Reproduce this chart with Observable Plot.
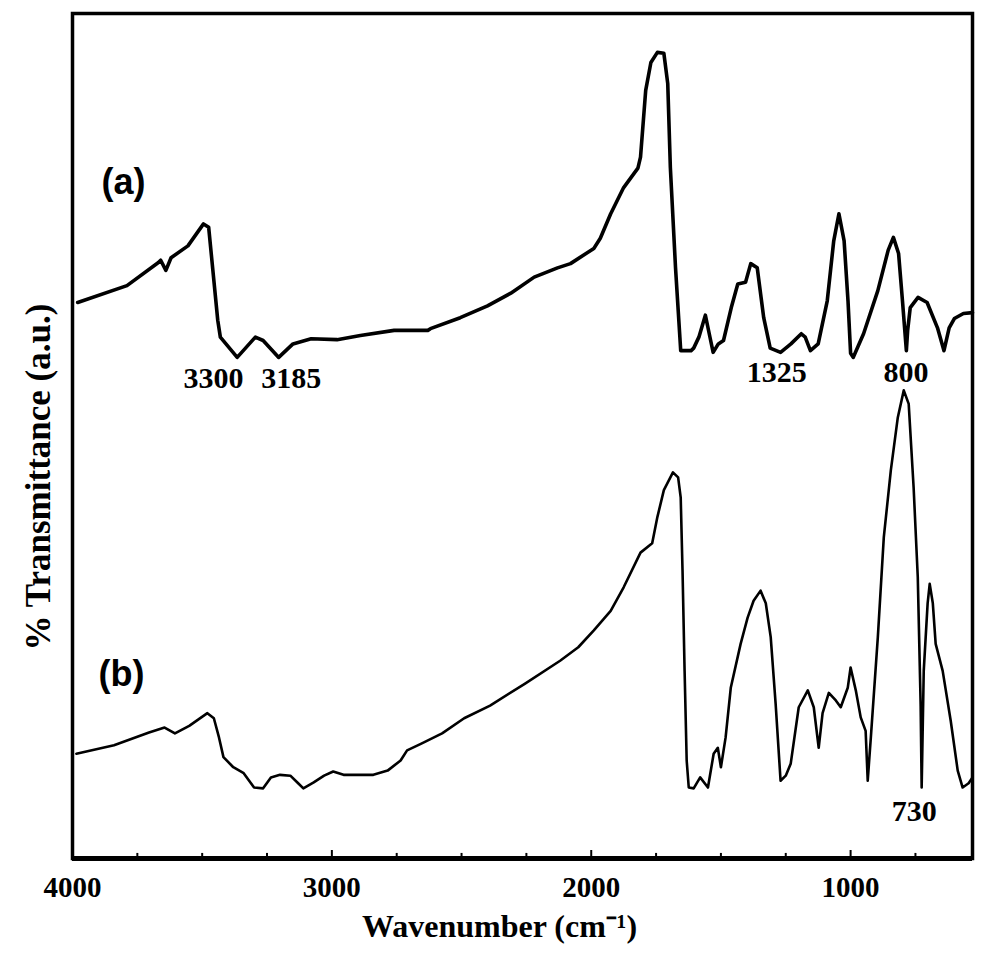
<!DOCTYPE html>
<html>
<head>
<meta charset="utf-8">
<script src="https://cdn.jsdelivr.net/npm/d3@7"></script>
<script src="https://cdn.jsdelivr.net/npm/@observablehq/plot@0.6"></script>
<style>
  html, body { margin: 0; padding: 0; background: #fff; }
  #chart { width: 999px; height: 970px; }
</style>
</head>
<body>
<div id="chart"></div>
<script>
// ---- Data ----
// Spectrum (a)
const waveA = [3980,3790,3670,3660,3640,3620,3555,3495,3475,3440,3430,3365,3295,3265,3205,3150,3080,2980,2890,2760,2630,2620,2505,2400,2310,2220,2130,2080,1990,1965,1925,1875,1820,1810,1790,1770,1745,1720,1705,1695,1675,1655,1615,1605,1585,1560,1545,1530,1510,1490,1460,1435,1405,1385,1360,1335,1310,1270,1230,1190,1175,1155,1125,1090,1065,1045,1025,1010,1000,990,950,895,855,835,815,800,785,780,770,740,705,665,640,620,600,565,530];
const transA = [65.8,67.8,70.5,70.8,69.6,71.1,72.5,75.1,74.7,63.7,61.7,59.3,61.7,61.3,59.3,60.9,61.5,61.4,61.9,62.5,62.5,62.7,64.0,65.4,66.9,68.8,69.9,70.4,72.2,73.4,76.3,79.4,81.7,83.0,90.9,94.2,95.4,95.3,91.7,81.8,69.9,60.1,60.1,60.4,61.7,64.3,62.1,59.9,60.9,61.3,65.2,68.0,68.2,70.4,69.9,64.0,60.4,59.9,60.9,62.1,61.7,60.1,60.9,66.0,73.1,76.3,73.1,66.0,59.8,59.3,62.1,67.2,72.0,73.5,71.6,66.0,60.1,62.5,65.2,66.4,65.8,62.8,60.1,62.8,63.9,64.5,64.6];
// Spectrum (b)
const waveB = [3985,3840,3705,3645,3605,3550,3480,3455,3435,3418,3380,3340,3300,3265,3235,3200,3160,3130,3110,3070,3030,2995,2955,2840,2785,2735,2710,2655,2575,2490,2390,2255,2120,2050,1990,1925,1875,1810,1765,1745,1720,1685,1665,1655,1648,1640,1632,1624,1605,1580,1550,1528,1512,1500,1482,1462,1424,1397,1374,1347,1327,1308,1289,1270,1250,1231,1200,1165,1142,1123,1108,1084,1057,1038,1011,1000,980,961,942,934,922,895,872,845,818,795,776,757,741,730,726,718,703,695,683,672,645,614,587,568,545,530];
const transB = [12.4,13.4,14.9,15.5,14.8,15.7,17.2,16.6,14.3,12.0,10.8,10.1,8.4,8.3,9.6,9.9,9.8,8.9,8.3,9.0,9.8,10.3,9.9,9.9,10.4,11.6,12.8,13.6,14.8,16.6,18.1,20.7,23.4,25.0,27.0,29.3,32.1,36.2,37.3,40.4,43.6,45.7,45.1,42.7,34.1,22.2,11.6,8.4,8.3,9.6,8.4,12.4,13.1,10.8,14.3,20.2,25.4,28.5,30.5,31.7,30.2,26.2,18.3,9.2,9.8,11.2,17.9,19.9,17.9,13.1,17.2,19.6,18.7,17.9,20.2,22.6,19.9,16.7,15.1,9.2,14.3,26.2,38.0,45.9,52.2,55.4,53.8,43.9,33.3,18.3,8.4,22.2,30.2,32.5,30.2,25.4,22.2,16.3,10.4,8.4,8.9,9.6];

// Axis ticks
const xTicks = [4000, 3000, 2000, 1000];
const xMinorTicks = [3750, 3500, 3250, 2750, 2500, 2250, 1750, 1500, 1250, 750];

// Annotations
const peakLabels = ["3300", "3185", "1325", "800", "730"];
const peakLabelX = [3456, 3157, 1285, 786, 755];
const peakLabelY = [56.8, 56.8, 57.5, 57.5, 5.6];
const panelLabels = ["(a)", "(b)"];
const panelLabelX = [3803, 3811];
const panelLabelY = [80.0, 21.8];

const xTitle = "Wavenumber (cm\u207B\u00B9)";
const yTitle = "% Transmittance (a.u.)";

// ---- Build tables ----
const specA = waveA.map((w, i) => ({w, t: transA[i]}));
const specB = waveB.map((w, i) => ({w, t: transB[i]}));
const peaks = peakLabels.map((s, i) => ({s, w: peakLabelX[i], t: peakLabelY[i]}));
const panels = panelLabels.map((s, i) => ({s, w: panelLabelX[i], t: panelLabelY[i]}));

const serif = "'Liberation Serif', 'Times New Roman', serif";
const sans = "'Liberation Sans', Arial, sans-serif";

const chart = Plot.plot({
  width: 999,
  height: 970,
  marginLeft: 72,
  marginRight: 27,
  marginTop: 13,
  marginBottom: 112,
  style: {background: "white", fontFamily: serif, color: "black"},
  x: {domain: [4000, 530], axis: null},
  y: {domain: [0, 100], axis: null},
  marks: [
    Plot.line(specA, {x: "w", y: "t", stroke: "black", strokeWidth: 3.6, strokeLinejoin: "round", strokeLinecap: "round"}),
    Plot.line(specB, {x: "w", y: "t", stroke: "black", strokeWidth: 2.6, strokeLinejoin: "round", strokeLinecap: "round"}),
    Plot.frame({stroke: "black", strokeWidth: 3.5}),
    Plot.ruleY([0], {stroke: "black", strokeWidth: 5}),
    Plot.ruleX(xTicks, {y1: 0, y2: 0.95, stroke: "black", strokeWidth: 2}),
    Plot.ruleX(xMinorTicks, {y1: 0, y2: 0.6, stroke: "black", strokeWidth: 2}),
    Plot.axisX({ticks: xTicks, tickSize: 0, tickPadding: 18, tickFormat: "d", fontSize: 29, fontWeight: "bold", fontFamily: serif, label: null}),
    Plot.text([xTitle], {frameAnchor: "bottom", lineAnchor: "middle", textAnchor: "middle", dx: -23, dy: 68, text: d => d, fontSize: 32, fontWeight: "bold", fontFamily: serif, fill: "black"}),
    Plot.text([yTitle], {frameAnchor: "left", textAnchor: "middle", lineAnchor: "middle", dx: -34, dy: 41, rotate: -90, text: d => d, fontSize: 35, fontWeight: "bold", fontFamily: serif, fill: "black"}),
    Plot.text(peaks, {x: "w", y: "t", text: "s", fontSize: 30, fontWeight: "bold", fontFamily: serif, fill: "black"}),
    Plot.text(panels, {x: "w", y: "t", text: "s", fontSize: 36, fontWeight: "bold", fontFamily: sans, fill: "black"})
  ]
});
document.getElementById("chart").appendChild(chart);
</script>
</body>
</html>
